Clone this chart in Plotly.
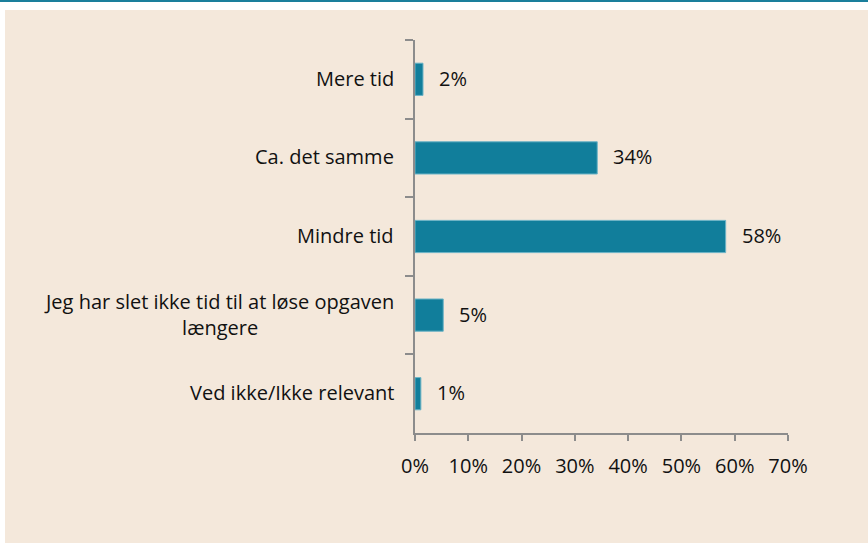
import plotly.graph_objects as go

categories = ["Mere tid", "Ca. det samme", "Mindre tid",
              "Jeg har slet ikke tid til at løse opgaven<br>længere",
              "Ved ikke/Ikke relevant"]
values = [1.5, 34.2, 58.3, 5.3, 1.1]
value_labels = ["2%", "34%", "58%", "5%", "1%"]
x_ticks = [0, 10, 20, 30, 40, 50, 60, 70]
x_tick_labels = ["0%", "10%", "20%", "30%", "40%", "50%", "60%", "70%"]

W, H = 868, 543
L, R, T, B = 415, 868 - 788, 40, 543 - 433
pw, ph = W - L - R, H - T - B

def px(x):
    return (x - L) / pw

def py(y):
    return (H - B - y) / ph

font = "Open Sans, Noto Sans, sans-serif"
FS = 20
fig = go.Figure()
fig.add_trace(go.Bar(
    y=categories, x=values, orientation="h",
    marker=dict(color="#117E9B", line=dict(color="#6bb3c6", width=1)),
    width=0.41, hoverinfo="skip",
))

annotations = []
for c, v, t in zip(categories, values, value_labels):
    annotations.append(dict(x=v, y=c, xref="x", yref="y", text=t, showarrow=False,
                            xanchor="left", xshift=14, yshift=1,
                            font=dict(size=FS, color="#111111", family=font)))
    annotations.append(dict(x=0, y=c, xref="paper", yref="y", text=c, showarrow=False,
                            xanchor="right", xshift=-19, yshift=1, align="center",
                            font=dict(size=FS, color="#111111", family=font)))

shapes = [
    dict(type="rect", xref="paper", yref="paper", x0=px(5), x1=px(868), y0=py(543), y1=py(10),
         fillcolor="#F4E8DB", line=dict(width=0), layer="below"),
    dict(type="line", xref="paper", yref="paper", x0=px(0), x1=px(868), y0=py(1), y1=py(1),
         line=dict(color="#1A7F9C", width=2), layer="below"),
]

fig.update_layout(
    width=W, height=H, margin=dict(l=L, r=R, t=T, b=B, autoexpand=False),
    paper_bgcolor="white", plot_bgcolor="rgba(0,0,0,0)",
    showlegend=False, annotations=annotations, shapes=shapes,
    font=dict(family=font, size=FS, color="#111111"),
    xaxis=dict(range=[0, 70], tickvals=x_ticks, ticktext=x_tick_labels, showgrid=False, zeroline=False,
               showline=True, linecolor="#8c8c8c", linewidth=2, ticks="outside", ticklen=6,
               tickcolor="#8c8c8c", tickwidth=2, ticklabelstandoff=8,
               tickfont=dict(size=FS, color="#111111")),
    yaxis=dict(type="category", autorange="reversed", showticklabels=False, showgrid=False,
               showline=True, linecolor="#8c8c8c", linewidth=2, ticks="outside", ticklen=8,
               tickcolor="#8c8c8c", tickwidth=2, tickson="boundaries"),
)

fig.write_html("out.html", config={"displayModeBar": False},
               post_script="document.body.style.margin='0';document.body.style.overflow='hidden';")
